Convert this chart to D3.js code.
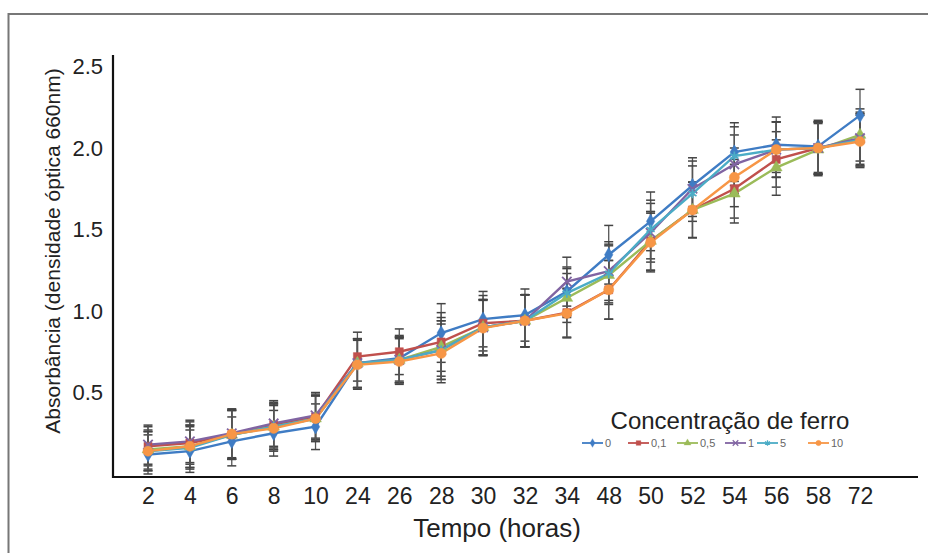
<!DOCTYPE html>
<html><head><meta charset="utf-8">
<script src="https://cdn.jsdelivr.net/npm/d3@7"></script>
<style>body{margin:0;background:#fff}svg{display:block}text{font-family:"Liberation Sans",Arial,sans-serif}</style>
</head><body><svg id="c" width="928" height="553"></svg>
<script>
const times = ["2","4","6","8","10","24","26","28","30","32","34","48","50","52","54","56","58","72"];
const yTicks = [0.5, 1.0, 1.5, 2.0, 2.5];
const seriesNames = ["0","0,1","0,5","1","5","10"];
const s0  = [0.12,0.14,0.20,0.25,0.29,0.68,0.71,0.865,0.95,0.975,1.12,1.345,1.55,1.77,1.975,2.02,2.01,2.20];
const s01 = [0.17,0.19,0.24,0.30,0.35,0.72,0.75,0.81,0.925,0.94,0.99,1.13,1.43,1.62,1.75,1.93,2.00,2.05];
const s05 = [0.15,0.17,0.24,0.29,0.34,0.68,0.70,0.78,0.90,0.94,1.08,1.22,1.43,1.62,1.72,1.88,1.99,2.08];
const s1  = [0.18,0.20,0.25,0.31,0.36,0.68,0.70,0.76,0.90,0.94,1.18,1.245,1.48,1.75,1.90,1.99,2.00,2.06];
const s5  = [0.14,0.16,0.24,0.29,0.34,0.68,0.70,0.76,0.90,0.94,1.11,1.23,1.50,1.72,1.95,1.99,2.00,2.05];
const s10 = [0.14,0.17,0.245,0.28,0.34,0.67,0.69,0.74,0.895,0.94,0.985,1.13,1.42,1.62,1.82,1.99,2.00,2.04];
const errors = [0.12,0.13,0.15,0.14,0.14,0.15,0.14,0.18,0.17,0.16,0.15,0.18,0.18,0.17,0.18,0.17,0.16,0.16];
const colors = ["#3f7cc4","#c0504d","#9bbb59","#8064a2","#4bacc6","#f79646"];
const symbols = [d3.symbolDiamond, d3.symbolSquare, d3.symbolTriangle, d3.symbolTimes || d3.symbolCross, d3.symbolAsterisk || d3.symbolStar, d3.symbolCircle];
const filled = [true,true,true,false,false,true];
const allSeries = [s0,s01,s05,s1,s5,s10];

const svg = d3.select("#c");
// outer frame
svg.append("path").attr("d","M8.5,553 L8.5,14 L928,14").attr("fill","none").attr("stroke","#777").attr("stroke-width",2);

const x = d3.scalePoint().domain(times).range([148, 860]);
const y = d3.scaleLinear().domain([0, 2.5]).range([474, 66.5]);

// axes lines
svg.append("line").attr("x1",113).attr("x2",113).attr("y1",55).attr("y2",478).attr("stroke","#111").attr("stroke-width",2.2);
svg.append("line").attr("x1",112).attr("x2",918).attr("y1",477).attr("y2",477).attr("stroke","#111").attr("stroke-width",2.2);

const ya = svg.append("g").attr("transform","translate(113,0)")
  .call(d3.axisLeft(y).tickValues(yTicks).tickSize(0).tickPadding(10).tickFormat(d3.format(".1f")));
ya.select(".domain").remove();
ya.selectAll("text").attr("font-size",22).attr("fill","#222");

const xa = svg.append("g").attr("transform","translate(0,477)")
  .call(d3.axisBottom(x).tickSize(0).tickPadding(11));
xa.select(".domain").remove();
xa.selectAll("text").attr("font-size",23).attr("fill","#222");

svg.append("text").attr("x",497).attr("y",537).attr("text-anchor","middle").attr("font-size",26).attr("fill","#222").text("Tempo (horas)");
svg.append("text").attr("transform","translate(60,251) rotate(-90)").attr("text-anchor","middle").attr("font-size",21).attr("fill","#222").text("Absorbância (densidade óptica 660nm)");

// error bars
const eg = svg.append("g");
allSeries.forEach((s,si)=>{
  s.forEach((v,i)=>{
    const cx = x(times[i]), e = errors[i];
    const t = y(v+e), b = y(Math.max(0,v-e));
    eg.append("line").attr("x1",cx).attr("x2",cx).attr("y1",t).attr("y2",b).attr("stroke","#555").attr("stroke-width",1.3);
    [t,b].forEach(yy=>eg.append("line").attr("x1",cx-4.5).attr("x2",cx+4.5).attr("y1",yy).attr("y2",yy).attr("stroke","#444").attr("stroke-width",1.5));
  });
});

// lines and markers
const line = d3.line().x((d,i)=>x(times[i])).y(d=>y(d));
allSeries.forEach((s,si)=>{
  svg.append("path").datum(s).attr("d",line).attr("fill","none").attr("stroke",colors[si]).attr("stroke-width",2.4);
});
allSeries.forEach((s,si)=>{
  const sym = d3.symbol().type(symbols[si]).size(si===5?80:si===1?65:60);
  svg.append("g").selectAll("path").data(s).join("path")
    .attr("transform",(d,i)=>`translate(${x(times[i])},${y(d)})`)
    .attr("d",sym)
    .attr("fill",filled[si]?colors[si]:"none")
    .attr("stroke",colors[si]).attr("stroke-width",filled[si]?0.5:1.8);
});

// legend
svg.append("text").attr("x",730).attr("y",429).attr("text-anchor","middle").attr("font-size",24).attr("fill","#222").text("Concentração de ferro");
const legX = [582,628,677,725,757,808];
const lg = svg.append("g");
seriesNames.forEach((n,si)=>{
  const x0 = legX[si], yy = 443;
  lg.append("line").attr("x1",x0).attr("x2",x0+21).attr("y1",yy).attr("y2",yy).attr("stroke",colors[si]).attr("stroke-width",1.8);
  lg.append("path").attr("transform",`translate(${x0+10.5},${yy})`).attr("d",d3.symbol().type(symbols[si]).size(22))
    .attr("fill",filled[si]?colors[si]:"none").attr("stroke",colors[si]).attr("stroke-width",filled[si]?0.3:1.2);
  lg.append("text").attr("x",x0+23).attr("y",yy+4).attr("font-size",11).attr("fill","#666").text(n);
});
</script></body></html>
